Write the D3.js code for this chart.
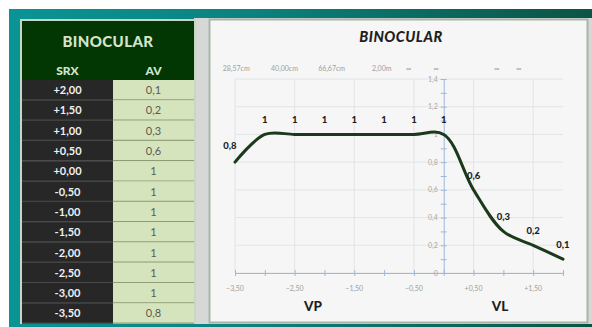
<!DOCTYPE html>
<html><head><meta charset="utf-8">
<script src="https://cdn.jsdelivr.net/npm/d3@7/dist/d3.min.js"></script>
<style>html,body{margin:0;padding:0;background:#fff;}svg{display:block;}</style>
</head><body>
<script>
// ---- data ----
const srxLabels = ["+2,00","+1,50","+1,00","+0,50","+0,00","-0,50","-1,00","-1,50","-2,00","-2,50","-3,00","-3,50"];
const srxValues = [2, 1.5, 1, 0.5, 0, -0.5, -1, -1.5, -2, -2.5, -3, -3.5];
const avValues  = [0.1, 0.2, 0.3, 0.6, 1, 1, 1, 1, 1, 1, 1, 0.8];
const avTableLabels = ["0,1","0,2","0,3","0,6","1","1","1","1","1","1","1","0,8"];
const yTicks = [0, 0.2, 0.4, 0.6, 0.8, 1.0, 1.2, 1.4];
const xTicks = [-3.5, -2.5, -1.5, -0.5, 0.5, 1.5];
const topLabels = ["28,57cm","40,00cm","66,67cm","2,00m","\u221e","\u221e","\u221e","\u221e"];
const topLabelAt = [-3.48, -2.67, -1.88, -1.04, -0.59, -0.13, 0.89, 1.26];

const W = 592, H = 327;
const svg = d3.select("body").append("svg").attr("width", W).attr("height", H);
const defs = svg.append("defs");
const g = defs.append("linearGradient").attr("id","teal").attr("x1","0").attr("x2","1").attr("y1","0").attr("y2","0");
g.append("stop").attr("offset","0%").attr("stop-color","#0a9494");
g.append("stop").attr("offset","40%").attr("stop-color","#0a8380");
g.append("stop").attr("offset","100%").attr("stop-color","#0b5444");

svg.append("rect").attr("width",W).attr("height",H).attr("fill","#fff");
svg.append("rect").attr("x",9).attr("y",9).attr("width",W-9).attr("height",H-9).attr("fill","url(#teal)");
// gray sheet between panels
svg.append("rect").attr("x",194).attr("y",18).attr("width",W-194).attr("height",306).attr("fill","#d6d8d6");

// ---- table ----
const fontF = "Lato, 'Open Sans', sans-serif";
const tX0 = 22, tX1 = 113, tX2 = 194, hdrTop = 21, rowTop = 80, rowH = 20.3;
svg.append("rect").attr("x",20).attr("y",19).attr("width",176).attr("height",305).attr("fill","#c8d6c4");
svg.append("rect").attr("x",tX0).attr("y",hdrTop).attr("width",tX2-tX0).attr("height",rowTop-hdrTop).attr("fill","#023602");
svg.append("text").attr("x",(tX0+tX2)/2).attr("y",47).attr("text-anchor","middle")
  .attr("font-family",fontF).attr("font-weight","900").attr("font-size",15).attr("letter-spacing",0.4).attr("fill","#d4e4cc").text("BINOCULAR");
svg.append("text").attr("x",(tX0+tX1)/2).attr("y",75).attr("text-anchor","middle")
  .attr("font-family",fontF).attr("font-weight","900").attr("font-size",12).attr("fill","#d4e4cc").text("SRX");
svg.append("text").attr("x",(tX1+tX2)/2).attr("y",75).attr("text-anchor","middle")
  .attr("font-family",fontF).attr("font-weight","900").attr("font-size",12).attr("fill","#d4e4cc").text("AV");

const rows = svg.append("g").selectAll("g").data(srxLabels).join("g")
  .attr("transform",(d,i)=>`translate(0,${rowTop + i*rowH})`);
rows.append("rect").attr("x",tX0).attr("y",0).attr("width",tX1-tX0).attr("height",rowH).attr("fill","#272727");
rows.append("rect").attr("x",tX1).attr("y",0).attr("width",tX2-tX1).attr("height",rowH).attr("fill","#d6e4be");
rows.append("line").attr("x1",tX0).attr("x2",tX1).attr("y1",rowH-0.5).attr("y2",rowH-0.5).attr("stroke","#4a4a4a").attr("stroke-width",1.2);
rows.append("line").attr("x1",tX1).attr("x2",tX2).attr("y1",rowH-0.5).attr("y2",rowH-0.5).attr("stroke","#8e9c78").attr("stroke-width",1.2);
rows.append("text").attr("x",(tX0+tX1)/2).attr("y",rowH/2+4).attr("text-anchor","middle")
  .attr("font-family",fontF).attr("font-weight","bold").attr("font-size",11).attr("fill","#f0f0f0").text(d=>d);
rows.append("text").attr("x",(tX1+tX2)/2).attr("y",rowH/2+4).attr("text-anchor","middle")
  .attr("font-family",fontF).attr("font-size",11).attr("fill","#5a5a50").text((d,i)=>avTableLabels[i]);

// ---- chart panel ----
svg.append("rect").attr("x",209.5).attr("y",19.5).attr("width",378).attr("height",303)
  .attr("fill","#f5f6f5").attr("stroke","#a9b4a9").attr("stroke-width",2);
svg.append("text").attr("x",401).attr("y",42).attr("text-anchor","middle")
  .attr("font-family",fontF).attr("font-weight","900").attr("font-style","italic").attr("font-size",14.5).attr("letter-spacing",0.5).attr("fill","#1e1e1e").text("BINOCULAR");

const x = d3.scaleLinear().domain([-3.5, 2.0]).range([235, 563]);
const y = d3.scaleLinear().domain([0, 1.4]).range([273, 79]);

// gridlines
svg.append("g").selectAll("line").data(yTicks).join("line")
  .attr("x1",x(-3.5)).attr("x2",x(2.0)).attr("y1",d=>y(d)).attr("y2",d=>y(d))
  .attr("stroke","#e2e4e6").attr("stroke-width",1);
svg.append("g").selectAll("line").data(xTicks).join("line")
  .attr("x1",d=>x(d)).attr("x2",d=>x(d)).attr("y1",y(0)).attr("y2",y(1.4))
  .attr("stroke","#e2e4e6").attr("stroke-width",1);

// top labels
svg.append("g").selectAll("text").data(topLabels).join("text")
  .attr("x",(d,i)=>x(topLabelAt[i])).attr("y",71).attr("text-anchor","middle")
  .attr("font-family",fontF).attr("font-size",7).attr("fill","#a0a0a0").text(d=>d);

// axes
const axisCol = "#9db8de";
const xAxis = svg.append("g").attr("transform",`translate(0,${y(0)})`)
  .call(d3.axisBottom(x).tickValues(d3.range(-3.5, 2.01, 0.5)).tickSize(3).tickFormat(""));
xAxis.select(".domain").attr("stroke",axisCol);
xAxis.selectAll(".tick line").attr("stroke",axisCol).attr("y1",-3);
const fmtX = v => (v > 0 ? "+" : "") + d3.format(".2f")(v).replace(".", ",");
svg.append("g").selectAll("text").data(xTicks).join("text")
  .attr("x",d=>x(d)).attr("y",291).attr("text-anchor","middle")
  .attr("font-family",fontF).attr("font-size",7).attr("fill","#a0a0a0").text(fmtX);

const yAxis = svg.append("g").attr("transform",`translate(${x(0)},0)`)
  .call(d3.axisLeft(y).tickValues(d3.range(0, 1.401, 0.1)).tickSize(3).tickFormat(""));
yAxis.select(".domain").attr("stroke",axisCol);
yAxis.selectAll(".tick line").attr("stroke",axisCol).attr("x2",3).attr("x1",-3);
const fmtY = v => d3.format("~g")(+v.toFixed(1)).replace(".", ",");
svg.append("g").selectAll("text").data(yTicks).join("text")
  .attr("x",x(0)-6).attr("y",d=>y(d)+2.5).attr("text-anchor","end")
  .attr("font-family",fontF).attr("font-size",7).attr("fill","#a8a8a8").text(fmtY);

// curve
const pts = srxValues.map((v,i)=>({x:v, y:avValues[i]})).sort((a,b)=>a.x-b.x);
svg.append("path").datum(pts)
  .attr("d", d3.line().x(d=>x(d.x)).y(d=>y(d.y)).curve(d3.curveCatmullRom.alpha(0.5)))
  .attr("fill","none").attr("stroke","#1b3a1b").attr("stroke-width",3).attr("stroke-linejoin","round").attr("stroke-linecap","round");

// data labels
svg.append("g").selectAll("text").data(pts).join("text")
  .attr("x",d=>x(d.x) + (d.x === -3.5 ? -5 : 0)).attr("y",d=>y(d.y) - (d.x === -3.5 ? 13 : 11))
  .attr("text-anchor","middle").attr("font-family",fontF).attr("font-weight","900").attr("font-size",9.5).attr("fill","#1e1e1e")
  .text(d=>d3.format("~g")(d.y).replace(".", ","));

// VP / VL
svg.append("text").attr("x",313).attr("y",311).attr("text-anchor","middle")
  .attr("font-family",fontF).attr("font-weight","900").attr("font-size",13.5).attr("fill","#1e1e1e").text("VP");
svg.append("text").attr("x",500).attr("y",311).attr("text-anchor","middle")
  .attr("font-family",fontF).attr("font-weight","900").attr("font-size",13.5).attr("fill","#1e1e1e").text("VL");
</script>
</body></html>
